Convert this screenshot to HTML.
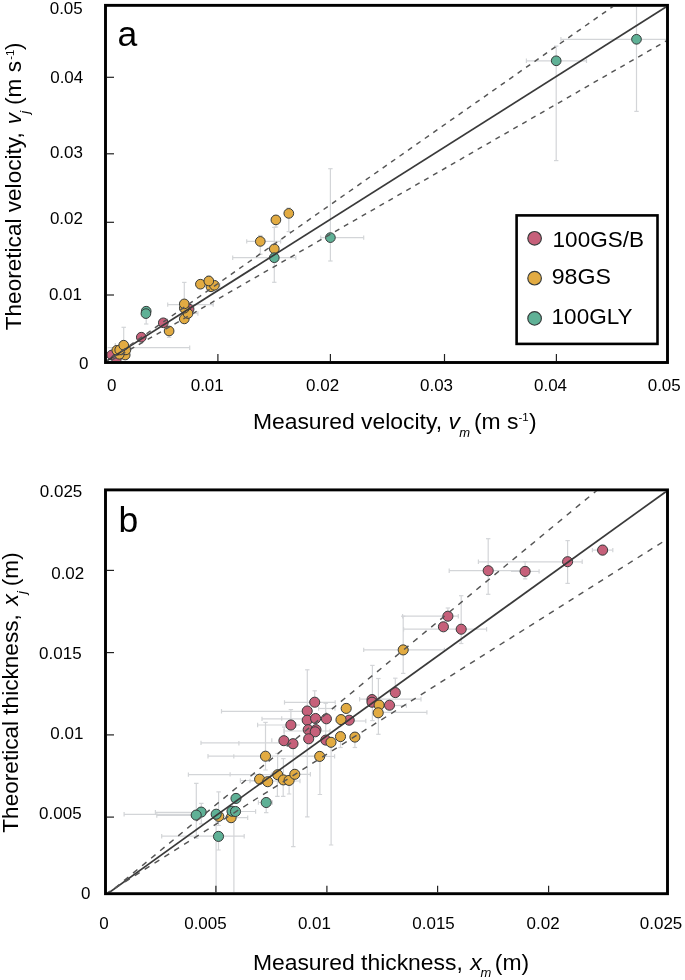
<!DOCTYPE html>
<html><head><meta charset="utf-8"><title>Figure</title>
<style>html,body{margin:0;padding:0;background:#fff;width:685px;height:980px;overflow:hidden}</style>
</head><body>
<svg width="685" height="980" viewBox="0 0 685 980" style="position:absolute;left:0;top:0;will-change:transform">
<defs>
<clipPath id="ca"><rect x="107" y="7" width="559" height="354"/></clipPath>
<clipPath id="cb"><rect x="107" y="491.3" width="559" height="401.1"/></clipPath>
</defs>
<g font-family="'Liberation Sans', sans-serif" fill="#000">
<g clip-path="url(#ca)" stroke="#d3d5d8" stroke-width="1.2" fill="none">
<line x1="636.5" y1="0" x2="636.5" y2="111.4"/>
<line x1="634.3" y1="111.4" x2="638.7" y2="111.4"/>
<line x1="560.9" y1="39.3" x2="670" y2="39.3"/>
<line x1="560.9" y1="37.099999999999994" x2="560.9" y2="41.5"/>
<line x1="556.2" y1="46.1" x2="556.2" y2="160.6"/>
<line x1="554.0" y1="46.1" x2="558.4000000000001" y2="46.1"/>
<line x1="554.0" y1="160.6" x2="558.4000000000001" y2="160.6"/>
<line x1="526.4" y1="60.8" x2="586.5" y2="60.8"/>
<line x1="526.4" y1="58.599999999999994" x2="526.4" y2="63.0"/>
<line x1="586.5" y1="58.599999999999994" x2="586.5" y2="63.0"/>
<line x1="330.4" y1="168.7" x2="330.4" y2="261"/>
<line x1="328.2" y1="168.7" x2="332.59999999999997" y2="168.7"/>
<line x1="328.2" y1="261" x2="332.59999999999997" y2="261"/>
<line x1="320.7" y1="237.6" x2="363.7" y2="237.6"/>
<line x1="320.7" y1="235.4" x2="320.7" y2="239.79999999999998"/>
<line x1="363.7" y1="235.4" x2="363.7" y2="239.79999999999998"/>
<line x1="274.3" y1="227.4" x2="274.3" y2="282.3"/>
<line x1="272.1" y1="227.4" x2="276.5" y2="227.4"/>
<line x1="272.1" y1="282.3" x2="276.5" y2="282.3"/>
<line x1="232.7" y1="257.7" x2="295.8" y2="257.7"/>
<line x1="232.7" y1="255.5" x2="232.7" y2="259.9"/>
<line x1="295.8" y1="255.5" x2="295.8" y2="259.9"/>
<line x1="146.2" y1="311" x2="146.2" y2="324"/>
<line x1="144.0" y1="324" x2="148.39999999999998" y2="324"/>
<line x1="288.8" y1="213.4" x2="288.8" y2="231.6"/>
<line x1="286.6" y1="231.6" x2="291.0" y2="231.6"/>
<line x1="288.8" y1="208" x2="288.8" y2="213.4"/>
<line x1="286.6" y1="208" x2="291.0" y2="208"/>
<line x1="246.7" y1="241.4" x2="280.6" y2="241.4"/>
<line x1="246.7" y1="239.20000000000002" x2="246.7" y2="243.6"/>
<line x1="280.6" y1="239.20000000000002" x2="280.6" y2="243.6"/>
<line x1="260.3" y1="235.5" x2="260.3" y2="254.2"/>
<line x1="258.1" y1="235.5" x2="262.5" y2="235.5"/>
<line x1="258.1" y1="254.2" x2="262.5" y2="254.2"/>
<line x1="208.8" y1="275.8" x2="208.8" y2="283"/>
<line x1="206.60000000000002" y1="275.8" x2="211.0" y2="275.8"/>
<line x1="214.4" y1="285.3" x2="219.8" y2="285.3"/>
<line x1="219.8" y1="283.1" x2="219.8" y2="287.5"/>
<line x1="184.3" y1="282.4" x2="184.3" y2="304"/>
<line x1="182.10000000000002" y1="282.4" x2="186.5" y2="282.4"/>
<line x1="167.7" y1="304.6" x2="213.2" y2="304.6"/>
<line x1="167.7" y1="302.40000000000003" x2="167.7" y2="306.8"/>
<line x1="213.2" y1="302.40000000000003" x2="213.2" y2="306.8"/>
<line x1="188" y1="313.5" x2="197.9" y2="313.5"/>
<line x1="197.9" y1="311.3" x2="197.9" y2="315.7"/>
<line x1="169.1" y1="331" x2="169.1" y2="337.4"/>
<line x1="166.9" y1="337.4" x2="171.29999999999998" y2="337.4"/>
<line x1="123.7" y1="327.3" x2="123.7" y2="345"/>
<line x1="121.5" y1="327.3" x2="125.9" y2="327.3"/>
<line x1="107.6" y1="347.7" x2="189.7" y2="347.7"/>
<line x1="189.7" y1="345.5" x2="189.7" y2="349.9"/>
<line x1="115.3" y1="343" x2="115.3" y2="350"/>
<line x1="276" y1="219.9" x2="276" y2="227"/>
<line x1="273.8" y1="227" x2="278.2" y2="227"/>
</g>
<g clip-path="url(#ca)" stroke="#363a3a" stroke-width="1">
<circle cx="189.1" cy="309.1" r="4.85" fill="#c6607a"/>
<circle cx="163.3" cy="322.8" r="4.85" fill="#c6607a"/>
<circle cx="141.3" cy="337.2" r="4.85" fill="#c6607a"/>
<circle cx="111.7" cy="355" r="4.85" fill="#c6607a"/>
<circle cx="116.4" cy="358.7" r="4.85" fill="#c6607a"/>
<circle cx="288.8" cy="213.4" r="4.85" fill="#e2ab42"/>
<circle cx="275.9" cy="219.9" r="4.85" fill="#e2ab42"/>
<circle cx="260.3" cy="241.4" r="4.85" fill="#e2ab42"/>
<circle cx="274.3" cy="248.9" r="4.85" fill="#e2ab42"/>
<circle cx="200.4" cy="284.2" r="4.85" fill="#e2ab42"/>
<circle cx="211" cy="286.8" r="4.85" fill="#e2ab42"/>
<circle cx="214.4" cy="285.3" r="4.85" fill="#e2ab42"/>
<circle cx="208.8" cy="281" r="4.85" fill="#e2ab42"/>
<circle cx="184.3" cy="318.9" r="4.85" fill="#e2ab42"/>
<circle cx="188" cy="313.5" r="4.85" fill="#e2ab42"/>
<circle cx="184.3" cy="308.2" r="4.85" fill="#e2ab42"/>
<circle cx="184.3" cy="303.9" r="4.85" fill="#e2ab42"/>
<circle cx="169.1" cy="331" r="4.85" fill="#e2ab42"/>
<circle cx="125.2" cy="355" r="4.85" fill="#e2ab42"/>
<circle cx="119.3" cy="354.3" r="4.85" fill="#e2ab42"/>
<circle cx="125.9" cy="349.9" r="4.85" fill="#e2ab42"/>
<circle cx="116.8" cy="350.3" r="4.85" fill="#e2ab42"/>
<circle cx="119.7" cy="349.9" r="4.85" fill="#e2ab42"/>
<circle cx="123.7" cy="345.2" r="4.85" fill="#e2ab42"/>
<circle cx="636.5" cy="39.3" r="4.85" fill="#5fb196"/>
<circle cx="556.2" cy="60.8" r="4.85" fill="#5fb196"/>
<circle cx="330.4" cy="237.6" r="4.85" fill="#5fb196"/>
<circle cx="274.3" cy="257.7" r="4.85" fill="#5fb196"/>
<circle cx="146.2" cy="311.2" r="4.85" fill="#5fb196"/>
<circle cx="145.9" cy="313.6" r="4.85" fill="#5fb196"/>
</g>
<g clip-path="url(#ca)" fill="none">
<line x1="105.5" y1="361.6" x2="667.5" y2="6.0" stroke="#3a3a3a" stroke-width="1.7"/>
<line x1="105.5" y1="362.5" x2="764.99" y2="-100.17" stroke="#555555" stroke-width="1.45" stroke-dasharray="5.05 5.255" stroke-dashoffset="1.51"/>
<line x1="104" y1="364.6" x2="700" y2="21.48" stroke="#555555" stroke-width="1.45" stroke-dasharray="5.05 5.24" stroke-dashoffset="1.03"/>
</g>
<rect x="105.5" y="5.35" width="562" height="357.15" fill="none" stroke="#000" stroke-width="2.9"/>
<g stroke="#222" stroke-width="1.2">
<line x1="107" y1="77.3" x2="114" y2="77.3"/>
<line x1="107" y1="153.8" x2="114" y2="153.8"/>
<line x1="107" y1="222.3" x2="114" y2="222.3"/>
<line x1="107" y1="295.0" x2="114" y2="295.0"/>
<line x1="217.9" y1="361" x2="217.9" y2="354"/>
<line x1="330.4" y1="361" x2="330.4" y2="354"/>
<line x1="444.5" y1="361" x2="444.5" y2="354"/>
<line x1="556.4" y1="361" x2="556.4" y2="354"/>
</g>
<rect x="516.6" y="215.4" width="140.9" height="128.5" fill="#fff" stroke="#000" stroke-width="2.6"/>
<g stroke="#363a3a" stroke-width="1.15">
<circle cx="534.6" cy="238.3" r="6.8" fill="#c6607a"/>
<circle cx="534.6" cy="278.2" r="6.8" fill="#e2ab42"/>
<circle cx="534.6" cy="318.4" r="6.8" fill="#5fb196"/>
</g>
<text transform="translate(49.70,14.36) scale(1.03,1)" font-size="16.5">0.05</text>
<text transform="translate(50.20,82.60) scale(1.03,1)" font-size="16.5">0.04</text>
<text transform="translate(49.90,158.00) scale(1.03,1)" font-size="16.5">0.03</text>
<text transform="translate(49.90,223.80) scale(1.03,1)" font-size="16.5">0.02</text>
<text transform="translate(48.90,300.00) scale(1.03,1)" font-size="16.5">0.01</text>
<text transform="translate(79.00,368.90) scale(1.03,1)" font-size="16.5">0</text>
<text transform="translate(107.10,390.80) scale(1.03,1)" font-size="16.5">0</text>
<text transform="translate(190.70,391.40) scale(1.03,1)" font-size="16.5">0.01</text>
<text transform="translate(306.10,391.30) scale(1.03,1)" font-size="16.5">0.02</text>
<text transform="translate(420.00,391.30) scale(1.03,1)" font-size="16.5">0.03</text>
<text transform="translate(534.00,390.90) scale(1.03,1)" font-size="16.5">0.04</text>
<text transform="translate(647.70,390.90) scale(1.03,1)" font-size="16.5">0.05</text>
<text transform="translate(39.80,497.40) scale(1.03,1)" font-size="16.5">0.025</text>
<text transform="translate(51.20,578.70) scale(1.03,1)" font-size="16.5">0.02</text>
<text transform="translate(39.10,658.70) scale(1.03,1)" font-size="16.5">0.015</text>
<text transform="translate(50.30,738.70) scale(1.03,1)" font-size="16.5">0.01</text>
<text transform="translate(39.10,819.30) scale(1.03,1)" font-size="16.5">0.005</text>
<text transform="translate(80.90,899.10) scale(1.03,1)" font-size="16.5">0</text>
<text transform="translate(99.20,929.20) scale(1.03,1)" font-size="16.5">0</text>
<text transform="translate(184.20,929.10) scale(1.03,1)" font-size="16.5">0.005</text>
<text transform="translate(297.90,929.30) scale(1.03,1)" font-size="16.5">0.01</text>
<text transform="translate(412.30,929.30) scale(1.03,1)" font-size="16.5">0.015</text>
<text transform="translate(526.60,929.20) scale(1.03,1)" font-size="16.5">0.02</text>
<text transform="translate(639.80,929.20) scale(1.03,1)" font-size="16.5">0.025</text>
<text transform="translate(552.60,247.40) scale(1.0,1)" font-size="22.5">100GS/B</text>
<text transform="translate(551.70,284.10) scale(1.03,1)" font-size="22.5">98GS</text>
<text transform="translate(551.60,324.10) scale(1.0,1)" font-size="22.5">100GLY</text>
<text transform="translate(117.60,45.70) scale(1.0,1)" font-size="35.5">a</text>
<text transform="translate(118.60,531.80) scale(1.0,1)" font-size="35.5">b</text>
<text x="252.9" y="428.6" font-size="22.9">Measured velocity,<tspan x="448.6" font-style="italic">v</tspan><tspan x="459.3" y="436.6" font-style="italic" font-size="13">m</tspan><tspan x="474" y="428.6">(m s</tspan><tspan x="518.5" y="421" font-size="11.5">-1</tspan><tspan x="529" y="428.6">)</tspan></text>
<text transform="translate(21.2,330.3) rotate(-90)" x="0" y="0" font-size="22.6">Theoretical velocity,<tspan x="206.1" font-style="italic">v</tspan><tspan x="216.5" y="7.6" font-style="italic" font-size="13">j</tspan><tspan x="225.4" y="0">(m s</tspan><tspan x="270.5" y="-7.6" font-size="11.5">-1</tspan><tspan x="280.3" y="0">)</tspan></text>
<g clip-path="url(#cb)" stroke="#d3d5d8" stroke-width="1.2" fill="none">
<line x1="592.4" y1="550.1" x2="612.8" y2="550.1"/>
<line x1="592.4" y1="547.9" x2="592.4" y2="552.3000000000001"/>
<line x1="612.8" y1="547.9" x2="612.8" y2="552.3000000000001"/>
<line x1="602.6" y1="545" x2="602.6" y2="555"/>
<line x1="600.4" y1="545" x2="604.8000000000001" y2="545"/>
<line x1="600.4" y1="555" x2="604.8000000000001" y2="555"/>
<line x1="567.6" y1="540.6" x2="567.6" y2="583.4"/>
<line x1="565.4" y1="540.6" x2="569.8000000000001" y2="540.6"/>
<line x1="565.4" y1="583.4" x2="569.8000000000001" y2="583.4"/>
<line x1="478.4" y1="561.8" x2="582.2" y2="561.8"/>
<line x1="478.4" y1="559.5999999999999" x2="478.4" y2="564.0"/>
<line x1="582.2" y1="559.5999999999999" x2="582.2" y2="564.0"/>
<line x1="525.1" y1="561.6" x2="525.1" y2="578.9"/>
<line x1="522.9" y1="561.6" x2="527.3000000000001" y2="561.6"/>
<line x1="522.9" y1="578.9" x2="527.3000000000001" y2="578.9"/>
<line x1="511" y1="571.4" x2="539.1" y2="571.4"/>
<line x1="539.1" y1="569.1999999999999" x2="539.1" y2="573.6"/>
<line x1="488.2" y1="538.7" x2="488.2" y2="594.3"/>
<line x1="486.0" y1="538.7" x2="490.4" y2="538.7"/>
<line x1="486.0" y1="594.3" x2="490.4" y2="594.3"/>
<line x1="449.2" y1="570.7" x2="520" y2="570.7"/>
<line x1="449.2" y1="568.5" x2="449.2" y2="572.9000000000001"/>
<line x1="402.6" y1="616.2" x2="458.3" y2="616.2"/>
<line x1="402.6" y1="614.0" x2="402.6" y2="618.4000000000001"/>
<line x1="458.3" y1="614.0" x2="458.3" y2="618.4000000000001"/>
<line x1="447.9" y1="608" x2="447.9" y2="620"/>
<line x1="445.7" y1="608" x2="450.09999999999997" y2="608"/>
<line x1="403.6" y1="629.2" x2="486.6" y2="629.2"/>
<line x1="403.6" y1="627.0" x2="403.6" y2="631.4000000000001"/>
<line x1="486.6" y1="627.0" x2="486.6" y2="631.4000000000001"/>
<line x1="461.2" y1="595.7" x2="461.2" y2="643.5"/>
<line x1="459.0" y1="595.7" x2="463.4" y2="595.7"/>
<line x1="459.0" y1="643.5" x2="463.4" y2="643.5"/>
<line x1="395.3" y1="678.2" x2="395.3" y2="695"/>
<line x1="393.1" y1="678.2" x2="397.5" y2="678.2"/>
<line x1="372.4" y1="665.4" x2="372.4" y2="720.6"/>
<line x1="370.2" y1="665.4" x2="374.59999999999997" y2="665.4"/>
<line x1="370.2" y1="720.6" x2="374.59999999999997" y2="720.6"/>
<line x1="335" y1="721" x2="365.8" y2="721"/>
<line x1="365.8" y1="718.8" x2="365.8" y2="723.2"/>
<line x1="314.7" y1="690.8" x2="314.7" y2="705"/>
<line x1="312.5" y1="690.8" x2="316.9" y2="690.8"/>
<line x1="284.5" y1="702.4" x2="335.2" y2="702.4"/>
<line x1="284.5" y1="700.1999999999999" x2="284.5" y2="704.6"/>
<line x1="335.2" y1="700.1999999999999" x2="335.2" y2="704.6"/>
<line x1="307.3" y1="669.8" x2="307.3" y2="816.9"/>
<line x1="305.1" y1="669.8" x2="309.5" y2="669.8"/>
<line x1="305.1" y1="816.9" x2="309.5" y2="816.9"/>
<line x1="290.9" y1="709.6" x2="290.9" y2="730"/>
<line x1="288.7" y1="709.6" x2="293.09999999999997" y2="709.6"/>
<line x1="257.6" y1="725" x2="300" y2="725"/>
<line x1="257.6" y1="722.8" x2="257.6" y2="727.2"/>
<line x1="262" y1="718.9" x2="310" y2="718.9"/>
<line x1="262" y1="716.6999999999999" x2="262" y2="721.1"/>
<line x1="221.5" y1="711.3" x2="310" y2="711.3"/>
<line x1="221.5" y1="709.0999999999999" x2="221.5" y2="713.5"/>
<line x1="201" y1="742.9" x2="290" y2="742.9"/>
<line x1="201" y1="740.6999999999999" x2="201" y2="745.1"/>
<line x1="363.7" y1="649.9" x2="444.4" y2="649.9"/>
<line x1="363.7" y1="647.6999999999999" x2="363.7" y2="652.1"/>
<line x1="444.4" y1="647.6999999999999" x2="444.4" y2="652.1"/>
<line x1="403.2" y1="616.2" x2="403.2" y2="673.4"/>
<line x1="401.0" y1="616.2" x2="405.4" y2="616.2"/>
<line x1="401.0" y1="673.4" x2="405.4" y2="673.4"/>
<line x1="378.4" y1="678.5" x2="378.4" y2="734.3"/>
<line x1="376.2" y1="678.5" x2="380.59999999999997" y2="678.5"/>
<line x1="376.2" y1="734.3" x2="380.59999999999997" y2="734.3"/>
<line x1="378" y1="712.4" x2="426.9" y2="712.4"/>
<line x1="426.9" y1="710.1999999999999" x2="426.9" y2="714.6"/>
<line x1="379" y1="705.5" x2="406.4" y2="705.5"/>
<line x1="406.4" y1="703.3" x2="406.4" y2="707.7"/>
<line x1="359.6" y1="699.2" x2="421" y2="699.2"/>
<line x1="359.6" y1="697.0" x2="359.6" y2="701.4000000000001"/>
<line x1="421" y1="697.0" x2="421" y2="701.4000000000001"/>
<line x1="319.9" y1="756.4" x2="319.9" y2="794.5"/>
<line x1="317.7" y1="794.5" x2="322.09999999999997" y2="794.5"/>
<line x1="305" y1="756.4" x2="334.6" y2="756.4"/>
<line x1="334.6" y1="754.1999999999999" x2="334.6" y2="758.6"/>
<line x1="331.1" y1="742" x2="331.1" y2="845"/>
<line x1="328.90000000000003" y1="845" x2="333.3" y2="845"/>
<line x1="293.3" y1="740" x2="293.3" y2="846.6"/>
<line x1="291.1" y1="846.6" x2="295.5" y2="846.6"/>
<line x1="208" y1="756.2" x2="317.4" y2="756.2"/>
<line x1="208" y1="754.0" x2="208" y2="758.4000000000001"/>
<line x1="317.4" y1="754.0" x2="317.4" y2="758.4000000000001"/>
<line x1="265.5" y1="722.4" x2="265.5" y2="756"/>
<line x1="263.3" y1="722.4" x2="267.7" y2="722.4"/>
<line x1="277.4" y1="774.7" x2="277.4" y2="796.4"/>
<line x1="275.2" y1="796.4" x2="279.59999999999997" y2="796.4"/>
<line x1="283.2" y1="779.9" x2="283.2" y2="796.4"/>
<line x1="281.0" y1="796.4" x2="285.4" y2="796.4"/>
<line x1="289.1" y1="780.4" x2="289.1" y2="794"/>
<line x1="286.90000000000003" y1="794" x2="291.3" y2="794"/>
<line x1="188.4" y1="774.6" x2="271.4" y2="774.6"/>
<line x1="188.4" y1="772.4" x2="188.4" y2="776.8000000000001"/>
<line x1="271.4" y1="772.4" x2="271.4" y2="776.8000000000001"/>
<line x1="216.1" y1="814.2" x2="216.1" y2="892"/>
<line x1="213.9" y1="814.2" x2="218.29999999999998" y2="814.2"/>
<line x1="233.9" y1="817.7" x2="233.9" y2="892"/>
<line x1="231.70000000000002" y1="817.7" x2="236.1" y2="817.7"/>
<line x1="250" y1="781" x2="300" y2="781"/>
<line x1="250" y1="778.8" x2="250" y2="783.2"/>
<line x1="300" y1="778.8" x2="300" y2="783.2"/>
<line x1="265.5" y1="756" x2="265.5" y2="770"/>
<line x1="263.3" y1="770" x2="267.7" y2="770"/>
<line x1="277.6" y1="753.5" x2="277.6" y2="774"/>
<line x1="275.40000000000003" y1="753.5" x2="279.8" y2="753.5"/>
<line x1="283.4" y1="758.6" x2="283.4" y2="779.9"/>
<line x1="281.2" y1="758.6" x2="285.59999999999997" y2="758.6"/>
<line x1="284.2" y1="727" x2="284.2" y2="740"/>
<line x1="282.0" y1="727" x2="286.4" y2="727"/>
<line x1="240.4" y1="780.5" x2="258" y2="780.5"/>
<line x1="240.4" y1="778.3" x2="240.4" y2="782.7"/>
<line x1="294.8" y1="774.3" x2="310.4" y2="774.3"/>
<line x1="310.4" y1="772.0999999999999" x2="310.4" y2="776.5"/>
<line x1="340.5" y1="736.6" x2="340.5" y2="747.5"/>
<line x1="338.3" y1="747.5" x2="342.7" y2="747.5"/>
<line x1="354.9" y1="737.1" x2="354.9" y2="747.5"/>
<line x1="352.7" y1="747.5" x2="357.09999999999997" y2="747.5"/>
<line x1="238.9" y1="741.0999999999999" x2="238.9" y2="745.5"/>
<line x1="233.8" y1="754.1999999999999" x2="233.8" y2="758.6"/>
<line x1="230.1" y1="772.1999999999999" x2="230.1" y2="776.6"/>
<line x1="281.7" y1="716.3" x2="281.7" y2="720.7"/>
<line x1="271.8" y1="738.1999999999999" x2="271.8" y2="742.6"/>
<line x1="318.6" y1="708.5" x2="335" y2="708.5"/>
<line x1="318.6" y1="706.3" x2="318.6" y2="710.7"/>
<line x1="335" y1="706.3" x2="335" y2="710.7"/>
<line x1="284" y1="731" x2="330" y2="731"/>
<line x1="284" y1="728.8" x2="284" y2="733.2"/>
<line x1="330" y1="728.8" x2="330" y2="733.2"/>
<line x1="325.7" y1="703.3" x2="325.7" y2="740"/>
<line x1="323.5" y1="703.3" x2="327.9" y2="703.3"/>
<line x1="124.1" y1="814.3" x2="196" y2="814.3"/>
<line x1="124.1" y1="812.0999999999999" x2="124.1" y2="816.5"/>
<line x1="155.4" y1="812.3" x2="201" y2="812.3"/>
<line x1="155.4" y1="810.0999999999999" x2="155.4" y2="814.5"/>
<line x1="156.8" y1="815.5" x2="196" y2="815.5"/>
<line x1="156.8" y1="813.3" x2="156.8" y2="817.7"/>
<line x1="196.3" y1="783.4" x2="196.3" y2="838.1"/>
<line x1="194.10000000000002" y1="783.4" x2="198.5" y2="783.4"/>
<line x1="194.10000000000002" y1="838.1" x2="198.5" y2="838.1"/>
<line x1="201.3" y1="803.3" x2="201.3" y2="823.8"/>
<line x1="199.10000000000002" y1="803.3" x2="203.5" y2="803.3"/>
<line x1="199.10000000000002" y1="823.8" x2="203.5" y2="823.8"/>
<line x1="218.6" y1="791.9" x2="218.6" y2="825.5"/>
<line x1="216.4" y1="791.9" x2="220.79999999999998" y2="791.9"/>
<line x1="216.4" y1="825.5" x2="220.79999999999998" y2="825.5"/>
<line x1="235.5" y1="811.5" x2="255.6" y2="811.5"/>
<line x1="255.6" y1="809.3" x2="255.6" y2="813.7"/>
<line x1="231.1" y1="817.7" x2="247.7" y2="817.7"/>
<line x1="247.7" y1="815.5" x2="247.7" y2="819.9000000000001"/>
<line x1="161.7" y1="836.2" x2="244.2" y2="836.2"/>
<line x1="161.7" y1="834.0" x2="161.7" y2="838.4000000000001"/>
<line x1="244.2" y1="834.0" x2="244.2" y2="838.4000000000001"/>
<line x1="218.5" y1="836.4" x2="218.5" y2="850"/>
<line x1="216.3" y1="850" x2="220.7" y2="850"/>
<line x1="258.4" y1="802.5" x2="272.4" y2="802.5"/>
<line x1="258.4" y1="800.3" x2="258.4" y2="804.7"/>
<line x1="272.4" y1="800.3" x2="272.4" y2="804.7"/>
<line x1="266.2" y1="802.5" x2="266.2" y2="812.7"/>
<line x1="264.0" y1="812.7" x2="268.4" y2="812.7"/>
</g>
<g clip-path="url(#cb)" stroke="#363a3a" stroke-width="1">
<circle cx="602.6" cy="550.1" r="5.05" fill="#c6607a"/>
<circle cx="567.6" cy="561.7" r="5.05" fill="#c6607a"/>
<circle cx="525.1" cy="571.4" r="5.05" fill="#c6607a"/>
<circle cx="488.2" cy="570.7" r="5.05" fill="#c6607a"/>
<circle cx="447.9" cy="616.2" r="5.05" fill="#c6607a"/>
<circle cx="443.4" cy="626.8" r="5.05" fill="#c6607a"/>
<circle cx="461.2" cy="629.2" r="5.05" fill="#c6607a"/>
<circle cx="395.3" cy="692.6" r="5.05" fill="#c6607a"/>
<circle cx="372" cy="699.6" r="5.05" fill="#c6607a"/>
<circle cx="372" cy="702.2" r="5.05" fill="#c6607a"/>
<circle cx="389.5" cy="705.2" r="5.05" fill="#c6607a"/>
<circle cx="349.2" cy="720.2" r="5.05" fill="#c6607a"/>
<circle cx="326.4" cy="718.8" r="5.05" fill="#c6607a"/>
<circle cx="314.7" cy="702.2" r="5.05" fill="#c6607a"/>
<circle cx="307.2" cy="711" r="5.05" fill="#c6607a"/>
<circle cx="307.2" cy="720.2" r="5.05" fill="#c6607a"/>
<circle cx="315.6" cy="718.5" r="5.05" fill="#c6607a"/>
<circle cx="290.9" cy="725" r="5.05" fill="#c6607a"/>
<circle cx="308.2" cy="729.7" r="5.05" fill="#c6607a"/>
<circle cx="316" cy="729.7" r="5.05" fill="#c6607a"/>
<circle cx="315.2" cy="731.8" r="5.05" fill="#c6607a"/>
<circle cx="308.7" cy="738.8" r="5.05" fill="#c6607a"/>
<circle cx="283.9" cy="740.7" r="5.05" fill="#c6607a"/>
<circle cx="293" cy="743.7" r="5.05" fill="#c6607a"/>
<circle cx="325.8" cy="740.1" r="5.05" fill="#c6607a"/>
<circle cx="403.2" cy="649.9" r="5.05" fill="#e2ab42"/>
<circle cx="379.1" cy="705.1" r="5.05" fill="#e2ab42"/>
<circle cx="378.2" cy="712.8" r="5.05" fill="#e2ab42"/>
<circle cx="346.2" cy="708.4" r="5.05" fill="#e2ab42"/>
<circle cx="341" cy="719.6" r="5.05" fill="#e2ab42"/>
<circle cx="340.5" cy="736.6" r="5.05" fill="#e2ab42"/>
<circle cx="354.9" cy="737.1" r="5.05" fill="#e2ab42"/>
<circle cx="331" cy="742.3" r="5.05" fill="#e2ab42"/>
<circle cx="319.7" cy="756.4" r="5.05" fill="#e2ab42"/>
<circle cx="265.5" cy="756.2" r="5.05" fill="#e2ab42"/>
<circle cx="259.6" cy="779.2" r="5.05" fill="#e2ab42"/>
<circle cx="267.7" cy="781.7" r="5.05" fill="#e2ab42"/>
<circle cx="277.7" cy="774.7" r="5.05" fill="#e2ab42"/>
<circle cx="283.4" cy="779.9" r="5.05" fill="#e2ab42"/>
<circle cx="289.1" cy="780.4" r="5.05" fill="#e2ab42"/>
<circle cx="294.8" cy="774.3" r="5.05" fill="#e2ab42"/>
<circle cx="218.8" cy="816.4" r="5.05" fill="#e2ab42"/>
<circle cx="231.1" cy="817.7" r="5.05" fill="#e2ab42"/>
<circle cx="201.2" cy="812.1" r="5.05" fill="#5fb196"/>
<circle cx="196.2" cy="815.1" r="5.05" fill="#5fb196"/>
<circle cx="216.2" cy="814.2" r="5.05" fill="#5fb196"/>
<circle cx="236" cy="798.4" r="5.05" fill="#5fb196"/>
<circle cx="232" cy="811.2" r="5.05" fill="#5fb196"/>
<circle cx="235.5" cy="811.5" r="5.05" fill="#5fb196"/>
<circle cx="218.5" cy="836.4" r="5.05" fill="#5fb196"/>
<circle cx="266.2" cy="802.5" r="5.05" fill="#5fb196"/>
</g>
<g clip-path="url(#cb)" fill="none">
<line x1="105.5" y1="895.2" x2="667.5" y2="490.5" stroke="#3a3a3a" stroke-width="1.7"/>
<line x1="105.5" y1="895.9" x2="743.15" y2="369.66" stroke="#555555" stroke-width="1.45" stroke-dasharray="5.7 6.015" stroke-dashoffset="-0.57"/>
<line x1="105.5" y1="894.1" x2="700" y2="518.38" stroke="#555555" stroke-width="1.45" stroke-dasharray="5.7 5.965" stroke-dashoffset="0.34"/>
</g>
<rect x="105.5" y="489.9" width="562" height="403.8" fill="none" stroke="#000" stroke-width="2.9"/>
<g stroke="#222" stroke-width="1.2">
<line x1="107" y1="570.4" x2="114" y2="570.4"/>
<line x1="107" y1="652.6" x2="114" y2="652.6"/>
<line x1="107" y1="734.9" x2="114" y2="734.9"/>
<line x1="107" y1="817.1" x2="114" y2="817.1"/>
<line x1="215.9" y1="892.4" x2="215.9" y2="885.8"/>
<line x1="326.9" y1="892.4" x2="326.9" y2="885.8"/>
<line x1="437.6" y1="892.4" x2="437.6" y2="885.8"/>
<line x1="548.6" y1="892.4" x2="548.6" y2="885.8"/>
</g>
<text x="252.9" y="970" font-size="22.9">Measured thickness,<tspan x="470.3" font-style="italic">x</tspan><tspan x="480.6" y="977.4" font-style="italic" font-size="13">m</tspan><tspan x="494.8" y="970">(m)</tspan></text>
<text transform="translate(18.2,832.7) rotate(-90)" x="0" y="0" font-size="22.6">Theoretical thickness,<tspan x="227.2" font-style="italic">x</tspan><tspan x="238.6" y="7.4" font-style="italic" font-size="13">j</tspan><tspan x="246.5" y="0">(m)</tspan></text>
</g></svg>
</body></html>
